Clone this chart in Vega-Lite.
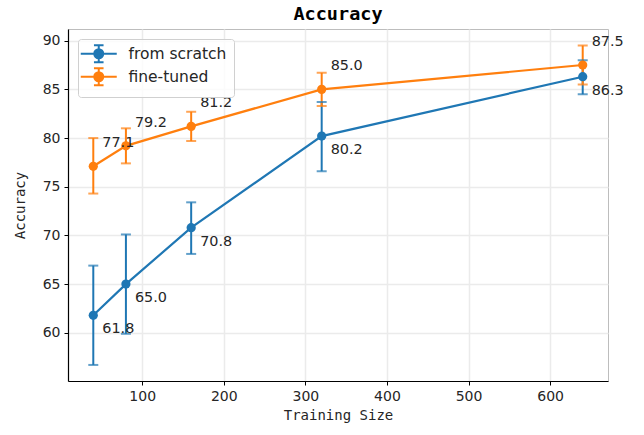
{
  "$schema": "https://vega.github.io/schema/vega-lite/v6.json",
  "width": 540,
  "height": 352,
  "autosize": {"type": "none"},
  "padding": {"left": 68, "top": 29, "right": 36, "bottom": 54},
  "background": "white",
  "title": {"text": "Accuracy", "font": "DejaVu Sans Mono", "fontWeight": "bold", "fontSize": 18.5, "color": "#000000", "offset": 6},
  "config": {
    "view": {"stroke": "#bdbdbd", "strokeWidth": 1},
    "axis": {
      "labelFont": "DejaVu Sans", "labelFontSize": 14, "labelColor": "#262626",
      "titleFont": "DejaVu Sans Mono", "titleFontSize": 14, "titleFontWeight": "normal", "titleColor": "#262626",
      "domainColor": "#000000", "domainWidth": 1.2, "tickColor": "#000000", "tickSize": 4,
      "gridColor": "#ebebeb", "gridWidth": 1.5
    }
  },
  "data": {"values": [
    {"series": "from scratch", "x": 40, "y": 61.8, "lo": 56.7, "hi": 66.9},
    {"series": "from scratch", "x": 80, "y": 65.0, "lo": 59.9, "hi": 70.1},
    {"series": "from scratch", "x": 160, "y": 70.8, "lo": 68.1, "hi": 73.4},
    {"series": "from scratch", "x": 320, "y": 80.2, "lo": 76.6, "hi": 83.7},
    {"series": "from scratch", "x": 640, "y": 86.3, "lo": 84.5, "hi": 88.0},
    {"series": "fine-tuned", "x": 40, "y": 77.1, "lo": 74.3, "hi": 80.0},
    {"series": "fine-tuned", "x": 80, "y": 79.2, "lo": 77.4, "hi": 81.0},
    {"series": "fine-tuned", "x": 160, "y": 81.2, "lo": 79.7, "hi": 82.7},
    {"series": "fine-tuned", "x": 320, "y": 85.0, "lo": 83.3, "hi": 86.7},
    {"series": "fine-tuned", "x": 640, "y": 87.5, "lo": 85.5, "hi": 89.5}
  ]},
  "encoding": {
    "x": {"field": "x", "type": "quantitative",
      "scale": {"domain": [9, 671], "nice": false, "zero": false},
      "axis": {"title": "Training Size", "values": [100, 200, 300, 400, 500, 600], "labelPadding": 4, "titlePadding": 5}},
    "y": {"field": "y", "type": "quantitative",
      "scale": {"domain": [55.05, 91.2], "nice": false, "zero": false},
      "axis": {"title": "Accuracy", "values": [60, 65, 70, 75, 80, 85, 90], "labelPadding": 4, "titlePadding": 15}},
    "color": {"field": "series", "type": "nominal",
      "scale": {"domain": ["from scratch", "fine-tuned"], "range": ["#1f77b4", "#ff7f0e"]},
      "legend": {"title": null, "orient": "top-left", "offset": 9.5,
        "labelFont": "DejaVu Sans", "labelFontSize": 15.5, "labelColor": "#262626",
        "symbolType": "M-2,0H4M1,-1.4V1.4M0.2,-1.4H1.8M0.2,1.4H1.8M0.25,0A0.75,0.75,0,1,1,1.75,0A0.75,0.75,0,1,1,0.25,0Z",
        "symbolSize": 144, "symbolStrokeWidth": 2, "symbolOpacity": 1,
        "rowPadding": -3, "labelOffset": 28,
        "fillColor": "rgba(255,255,255,0.8)", "strokeColor": "#d0d0d0", "cornerRadius": 3, "padding": 7}}
  },
  "layer": [
    {"mark": {"type": "rule", "strokeWidth": 2},
     "encoding": {"y": {"field": "lo", "type": "quantitative"}, "y2": {"field": "hi"}}},
    {"mark": {"type": "tick", "orient": "horizontal", "size": 10, "thickness": 2},
     "encoding": {"y": {"field": "lo", "type": "quantitative"}}},
    {"mark": {"type": "tick", "orient": "horizontal", "size": 10, "thickness": 2},
     "encoding": {"y": {"field": "hi", "type": "quantitative"}}},
    {"mark": {"type": "line", "strokeWidth": 2.2},
     "encoding": {"detail": {"field": "series"}}},
    {"mark": {"type": "point", "filled": true, "size": 85, "opacity": 1}},
    {"transform": [{"filter": "datum.series === 'from scratch'"}],
     "mark": {"type": "text", "align": "left", "baseline": "middle", "dx": 9, "dy": 14, "font": "DejaVu Sans", "fontSize": 14.4, "color": "#262626"},
     "encoding": {"text": {"field": "y", "type": "quantitative", "format": ".1f"}, "color": {"value": "#262626"}}},
    {"transform": [{"filter": "datum.series === 'fine-tuned'"}],
     "mark": {"type": "text", "align": "left", "baseline": "middle", "dx": 9, "dy": -23, "font": "DejaVu Sans", "fontSize": 14.4, "color": "#262626"},
     "encoding": {"text": {"field": "y", "type": "quantitative", "format": ".1f"}, "color": {"value": "#262626"}}}
  ]
}
